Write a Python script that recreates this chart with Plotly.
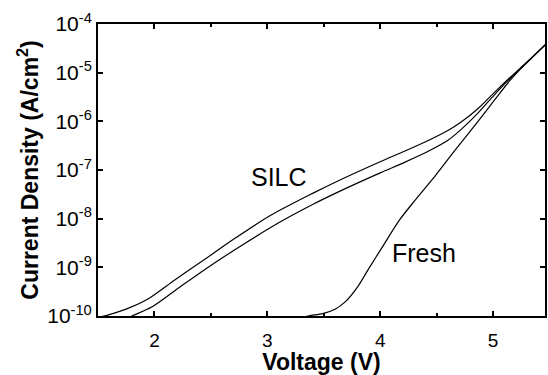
import plotly.graph_objects as go

# Gate voltage (V) and current density (A/cm^2) for the stressed (SILC) and fresh oxide
silc_upper_v = [1.50, 1.60, 1.77, 1.95, 2.18, 2.45, 2.71, 3.03, 3.41, 3.63,
                4.00, 4.22, 4.43, 4.60, 4.72, 4.87, 5.01, 5.15, 5.31, 5.47]
silc_upper_j = [9.33e-11, 1.07e-10, 1.45e-10, 2.29e-10, 5.50e-10, 1.48e-9, 3.89e-9,
                1.17e-8, 3.39e-8, 6.03e-8, 1.48e-7, 2.45e-7, 4.07e-7, 6.46e-7,
                9.77e-7, 1.86e-6, 3.89e-6, 7.94e-6, 1.74e-5, 3.89e-5]

silc_lower_v = [1.70, 1.80, 1.98, 2.21, 2.48, 2.80, 3.12, 3.41, 3.63, 4.00,
                4.22, 4.43, 4.60, 4.72, 4.87, 5.01, 5.15, 5.31, 5.47]
silc_lower_j = [7.94e-11, 1.00e-10, 1.55e-10, 3.72e-10, 1.02e-9, 3.09e-9, 8.71e-9,
                2.00e-8, 3.55e-8, 8.71e-8, 1.45e-7, 2.45e-7, 4.07e-7, 6.92e-7,
                1.51e-6, 3.47e-6, 7.59e-6, 1.70e-5, 3.89e-5]

fresh_v = [3.30, 3.36, 3.49, 3.60, 3.69, 3.80, 3.90, 4.02, 4.17, 4.31,
           4.46, 4.60, 4.72, 4.87, 5.01, 5.15, 5.31, 5.47]
fresh_j = [8.91e-11, 1.00e-10, 1.12e-10, 1.38e-10, 1.95e-10, 3.98e-10, 9.55e-10,
           2.63e-9, 9.33e-9, 2.40e-8, 6.31e-8, 1.66e-7, 3.72e-7, 1.02e-6,
           2.69e-6, 6.92e-6, 1.70e-5, 3.89e-5]

x_ticks = [2, 3, 4, 5]
y_ticks = [1e-10, 1e-9, 1e-8, 1e-7, 1e-6, 1e-5, 1e-4]
y_tick_text = ["10<sup>-10</sup>", "10<sup>-9</sup>", "10<sup>-8</sup>", "10<sup>-7</sup>",
               "10<sup>-6</sup>", "10<sup>-5</sup>", "10<sup>-4</sup>"]

FONT = "Liberation Sans, Arial, sans-serif"
line = dict(color="black", width=1.2, shape="spline", smoothing=0.8)

fig = go.Figure()
for v, j in [(silc_upper_v, silc_upper_j), (silc_lower_v, silc_lower_j), (fresh_v, fresh_j)]:
    fig.add_trace(go.Scatter(x=v, y=j, mode="lines", line=line,
                             showlegend=False, hoverinfo="skip"))

# Curve labels (annotation y on a log axis is given as log10 of the value)
fig.add_annotation(x=3.10, y=-7.15, xref="x", yref="y", text="SILC", showarrow=False,
                   font=dict(family=FONT, size=25, color="black"))
fig.add_annotation(x=4.385, y=-8.71, xref="x", yref="y", text="Fresh", showarrow=False,
                   font=dict(family=FONT, size=25, color="black"))

fig.update_layout(
    width=548, height=375,
    margin=dict(l=98, r=1, t=24, b=59),
    paper_bgcolor="white", plot_bgcolor="white",
    font=dict(family=FONT, color="black"),
    xaxis=dict(
        range=[1.5, 5.46], tickvals=x_ticks, ticks="inside", ticklen=5, tickwidth=1.5,
        tickcolor="black", showline=True, linecolor="black", linewidth=2,
        mirror="allticks", showgrid=False, zeroline=False, ticklabelstandoff=6,
        tickfont=dict(family=FONT, size=19, color="black"),
        minor=dict(dtick=0.5, tick0=0, ticks="inside", ticklen=3, tickwidth=1.5,
                   tickcolor="black", showgrid=False),
        title=dict(text="<b>Voltage (V)</b>", standoff=4,
                   font=dict(family=FONT, size=23, color="black")),
    ),
    yaxis=dict(
        type="log", range=[-10, -4], tickvals=y_ticks, ticktext=y_tick_text,
        ticks="inside", ticklen=5, tickwidth=1.5, tickcolor="black",
        showline=True, linecolor="black", linewidth=2, mirror="allticks",
        showgrid=False, zeroline=False,
        tickfont=dict(family=FONT, size=21, color="black"),
        title=dict(text="<b>Current Density (A/cm<sup>2</sup>)</b>", standoff=2,
                   font=dict(family=FONT, size=23, color="black")),
    ),
)

fig.write_html("out.html")
